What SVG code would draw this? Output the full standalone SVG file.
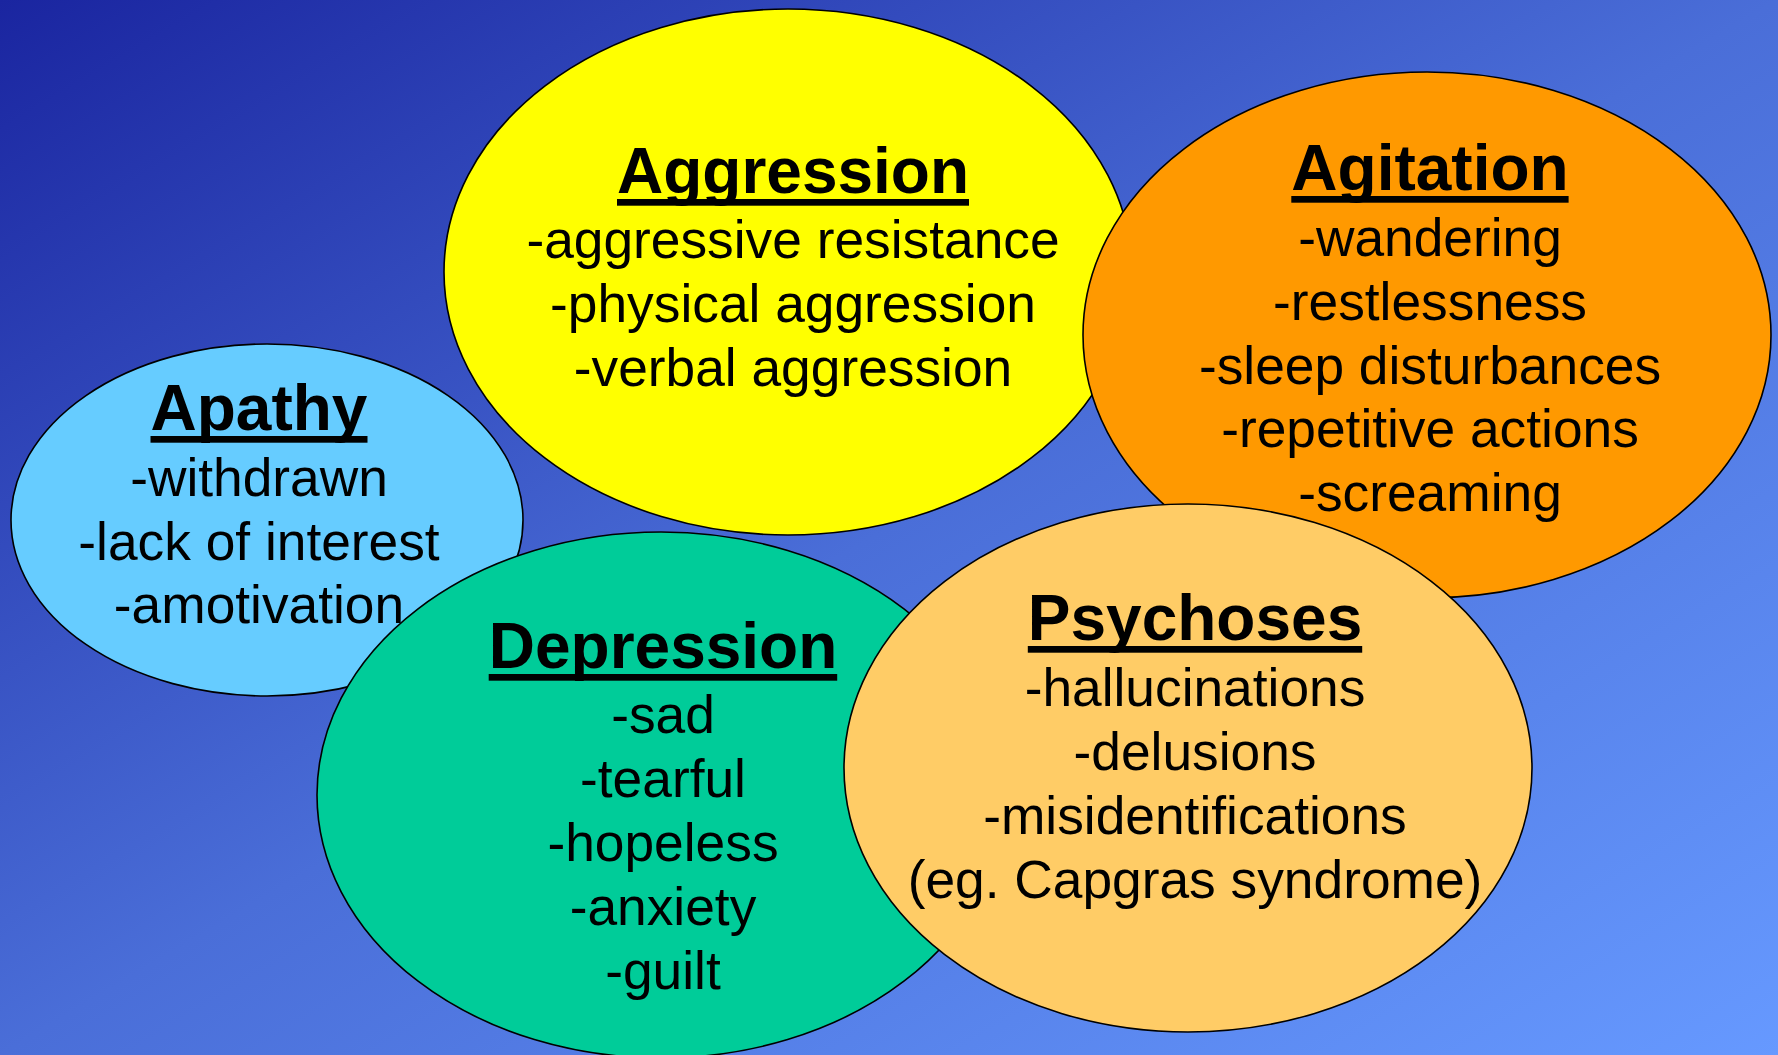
<svg xmlns="http://www.w3.org/2000/svg" width="1778" height="1055" viewBox="0 0 1778 1055">
  <defs>
    <linearGradient id="bg" x1="0" y1="0" x2="1" y2="1">
      <stop offset="0" stop-color="#1A25A0"/>
      <stop offset="0.5" stop-color="#4A6ED8"/>
      <stop offset="1" stop-color="#6699FF"/>
    </linearGradient>
  </defs>
  <style>
    .node { stroke: #000000; stroke-width: 1.6; }
    text { font-family: "Liberation Sans", Arial, Helvetica, sans-serif; fill: #000000; text-anchor: middle; }
    .title { font-size: 64px; font-weight: bold; }
    .body { font-size: 53.3px; }
    .ul { fill: #000000; }
  </style>
  <rect x="0" y="0" width="1778" height="1055" fill="url(#bg)"/>

  <g id="aggression">
    <ellipse class="node" cx="788" cy="272" rx="344" ry="263" fill="#FFFF00"/>
    <text class="title" x="793" y="193">Aggression</text>
    <rect class="ul" x="617" y="199" width="352" height="6.7"/>
    <text class="body" x="793" y="258">-aggressive resistance</text>
    <text class="body" x="793" y="322">-physical aggression</text>
    <text class="body" x="793" y="386">-verbal aggression</text>
  </g>

  <g id="agitation">
    <ellipse class="node" cx="1427" cy="335" rx="344" ry="263" fill="#FF9900"/>
    <text class="title" x="1430" y="190">Agitation</text>
    <rect class="ul" x="1291.3" y="196" width="277.3" height="6.7"/>
    <text class="body" x="1430" y="256">-wandering</text>
    <text class="body" x="1430" y="320">-restlessness</text>
    <text class="body" x="1430" y="384">-sleep disturbances</text>
    <text class="body" x="1430" y="447">-repetitive actions</text>
    <text class="body" x="1430" y="511">-screaming</text>
  </g>

  <g id="apathy">
    <ellipse class="node" cx="267" cy="520" rx="256" ry="176" fill="#66CCFF"/>
    <text class="title" x="259" y="430">Apathy</text>
    <rect class="ul" x="150.5" y="436" width="217" height="6.7"/>
    <text class="body" x="259" y="496">-withdrawn</text>
    <text class="body" x="259" y="560">-lack of interest</text>
    <text class="body" x="259" y="623">-amotivation</text>
  </g>

  <g id="depression">
    <ellipse class="node" cx="661" cy="795" rx="344" ry="263" fill="#00CC99"/>
    <text class="title" x="663" y="668">Depression</text>
    <rect class="ul" x="488.7" y="674" width="348.5" height="6.7"/>
    <text class="body" x="663" y="733">-sad</text>
    <text class="body" x="663" y="797">-tearful</text>
    <text class="body" x="663" y="861">-hopeless</text>
    <text class="body" x="663" y="925">-anxiety</text>
    <text class="body" x="663" y="989">-guilt</text>
  </g>

  <g id="psychoses">
    <ellipse class="node" cx="1188" cy="768" rx="344" ry="264" fill="#FFCC66"/>
    <text class="title" x="1195" y="640">Psychoses</text>
    <rect class="ul" x="1027.8" y="646" width="334.4" height="6.7"/>
    <text class="body" x="1195" y="706">-hallucinations</text>
    <text class="body" x="1195" y="770">-delusions</text>
    <text class="body" x="1195" y="834">-misidentifications</text>
    <text class="body" x="1195" y="898">(eg. Capgras syndrome)</text>
  </g>

  <g id="connectors"/>
</svg>
